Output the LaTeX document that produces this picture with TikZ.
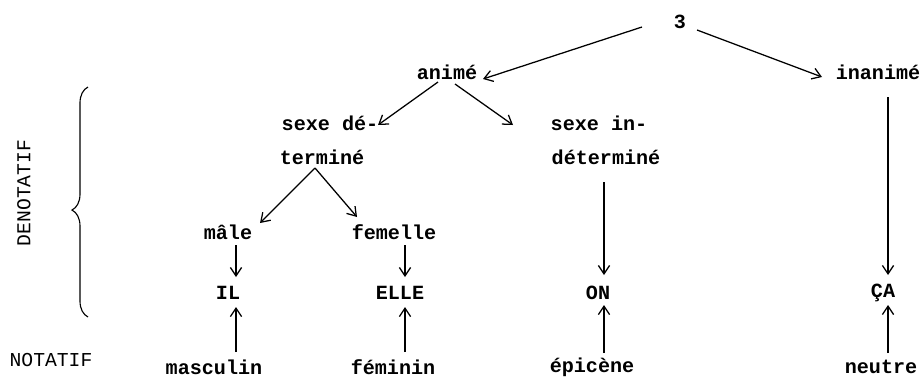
\documentclass[tikz,border=0pt]{standalone}
\usepackage{fontspec}
\setmonofont{Liberation Mono}
\usetikzlibrary{arrows.meta,decorations.pathreplacing,calc}
\begin{document}
\begin{tikzpicture}[x=0.025cm,y=-0.025cm,
  lbl/.style={inner sep=0pt,font=\fontsize{14.3}{17}\selectfont\ttfamily\bfseries},
  side/.style={inner sep=0pt,font=\fontsize{14}{17}\selectfont\ttfamily},
  arr/.style={line width=0.9pt,-{Straight Barb[length=6pt,width=8pt]}}]
\useasboundingbox (0,0) rectangle (922,378);
\node[lbl] (three) at (680,22) {3};
\node[lbl] (anime) at (447,72) {animé};
\node[lbl] (inanime) at (878,72) {inanimé};
\node[lbl] (sexed) at (330,123) {sexe dé-};
\node[lbl] (termine) at (322,157) {terminé};
\node[lbl] (sexei) at (599,123) {sexe in-};
\node[lbl] (indet) at (606,157) {déterminé};
\node[lbl] (male) at (228,232) {mâle};
\node[lbl] (femelle) at (394,232) {femelle};
\node[lbl] (IL) at (228,293) {IL};
\node[lbl] (ELLE) at (400,293) {ELLE};
\node[lbl] (ON) at (598,293) {ON};
\node[lbl] (CA) at (883,293) {ÇA};
\node[lbl] (masculin) at (214,367) {masculin};
\node[lbl] (feminin) at (393,367) {féminin};
\node[lbl] (epicene) at (592,367) {épicène};
\node[lbl] (neutre) at (881,367) {neutre};
\node[side,rotate=90] (denot) at (24,193) {DENOTATIF};
\node[side] (notatif) at (51,360) {NOTATIF};
\draw[arr] ($(three)+(-38,5)$) -- ($(anime)+(36,7)$);
\draw[arr] ($(three)+(17,8)$) -- ($(inanime)+(-56,5)$);
\draw[arr] ($(anime)+(-9,10)$) -- ($(sexed)+(48,2)$);
\draw[arr] ($(anime)+(8,12)$) -- ($(sexei)+(-86,2)$);
\draw[arr] ($(termine)+(-7,11)$) -- ($(male)+(32,-9)$);
\draw[arr] ($(termine)+(-7,11)$) -- ($(femelle)+(-37,-15)$);
\draw[arr] ($(male)+(8,13)$) -- ($(IL)+(8,-16)$);
\draw[arr] ($(femelle)+(11,13)$) -- ($(ELLE)+(5,-16)$);
\draw[arr] ($(masculin)+(22,-15)$) -- ($(IL)+(8,14)$);
\draw[arr] ($(feminin)+(12,-15)$) -- ($(ELLE)+(5,14)$);
\draw[arr] ($(indet)+(-2,25)$) -- ($(ON)+(6,-18)$);
\draw[arr] ($(epicene)+(12,-14)$) -- ($(ON)+(6,12)$);
\draw[arr] ($(inanime)+(10,25)$) -- ($(CA)+(5,-18)$);
\draw[arr] ($(neutre)+(7,-14)$) -- ($(CA)+(5,12)$);
\draw[line width=0.8pt,decorate,decoration={brace,amplitude=0.4cm,aspect=0.465}] (88,317) -- (88,87);
\end{tikzpicture}
\end{document}
